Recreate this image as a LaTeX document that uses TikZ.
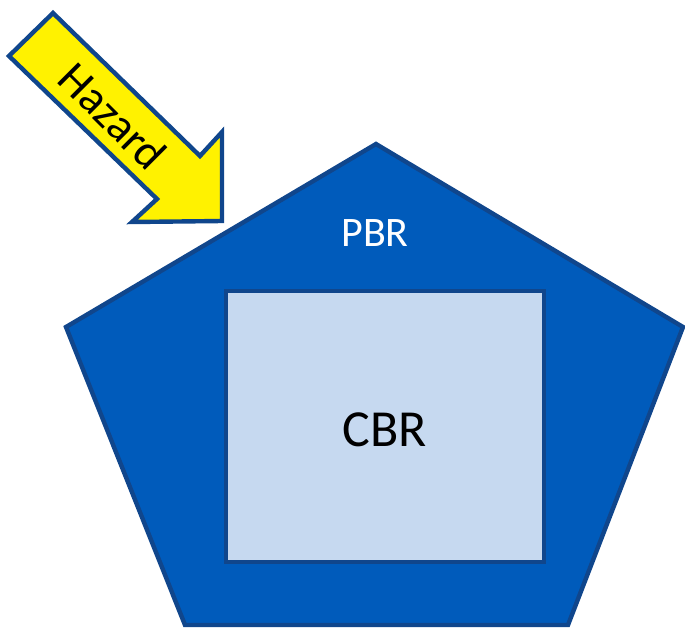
\documentclass[tikz,border=0pt]{standalone}
\usepackage{fontspec}
\setmainfont{Carlito}
\definecolor{pbrfill}{RGB}{0,91,187}
\definecolor{edgeblue}{RGB}{16,70,140}
\definecolor{cbrfill}{RGB}{198,217,240}
\begin{document}
\begin{tikzpicture}[x=0.5pt,y=-0.5pt,
  shapeline/.style={draw=edgeblue,line width=2.2pt,line join=miter},
  lbl/.style={inner sep=0pt,anchor=center}]
\useasboundingbox (0,0) rectangle (685,627);
% pentagon (PBR)
\draw[shapeline,fill=pbrfill] (376,144) -- (683,327) -- (568,625) -- (185,625) -- (66,327) -- cycle;
% square (CBR)
\draw[shapeline,fill=cbrfill] (226,291) rectangle (544,562);
% hazard arrow
\draw[shapeline,fill=yellow] (53,13) -- (200,156) -- (222,132) -- (222,221) -- (132,222) -- (157,199) -- (9,56) -- cycle;
\node[lbl,text=white,font=\fontsize{21}{24}\selectfont] (pbr) at (375,233) {PBR};
\node[lbl,text=black,font=\fontsize{26}{30}\selectfont] (cbr) at (385,430) {CBR};
\node[lbl,text=black,rotate=-45,font=\fontsize{23}{26}\selectfont] (haz) at (113,116) {Hazard};
\end{tikzpicture}
\end{document}
